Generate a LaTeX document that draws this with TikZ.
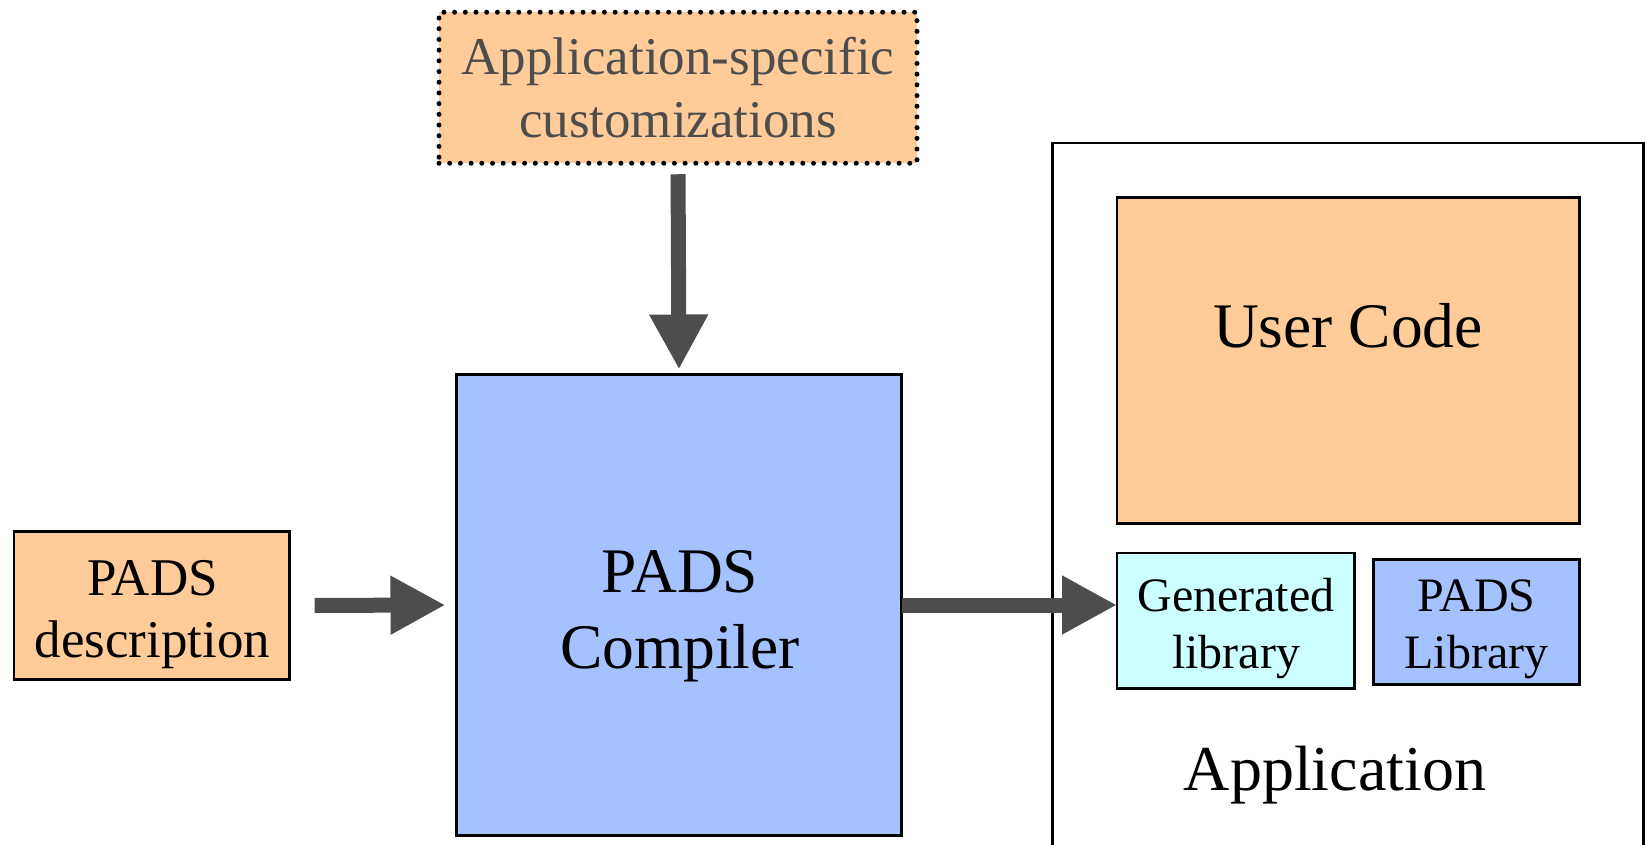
\documentclass[tikz,border=0pt]{standalone}
\usepackage{fontspec}
\setmainfont{Liberation Serif}
\usetikzlibrary{arrows.meta}
\definecolor{boxorange}{HTML}{FFCC99}
\definecolor{boxblue}{HTML}{A4C2FF}
\definecolor{boxcyan}{HTML}{CCFFFF}
\definecolor{arrowgray}{HTML}{4D4D4D}
\tikzset{
  box/.style={draw=black, line width=2.8pt, inner sep=0pt, outer sep=0pt, rectangle},
  dotbox/.style={draw=black, line width=5pt, dash pattern=on 0pt off 10.7pt, line cap=round, inner sep=0pt, outer sep=0pt, rectangle},
  bigarrow/.style={draw=arrowgray, line width=15pt, -{Triangle[width=55pt,length=55pt]}},
  txt/.style={align=center, inner sep=0pt, text=black}
}
\begin{document}
\begin{tikzpicture}[x=1pt,y=-1pt]
\useasboundingbox (0,0) rectangle (1647,845);
\clip (0,0) rectangle (1647,845);
\fill[white] (0,0) rectangle (1647,845);

% application container
\node[box, fill=white, minimum width=591pt, minimum height=757pt] (app) at (1348.25,521.6) {};

% boxes
\node[dotbox, fill=boxorange, minimum width=478pt, minimum height=151pt,
      align=center, text=arrowgray, font=\fontsize{53}{63}\selectfont] (cust) at (678,87.75)
      {Application-specific\\customizations};
\node[box, fill=boxorange, minimum width=275.5pt, minimum height=148pt] (desc) at (151.8,605.5) {};
\node[box, fill=boxblue, minimum width=445pt, minimum height=461pt] (comp) at (679,605) {};
\node[box, fill=boxorange, minimum width=462.5pt, minimum height=326pt] (user) at (1348.25,360.5) {};
\node[box, fill=boxcyan, minimum width=237.5pt, minimum height=135.5pt] (gen) at (1235.75,620.75) {};
\node[box, fill=boxblue, minimum width=206pt, minimum height=125pt] (padslib) at (1476.5,622) {};

% texts
\node[txt, font=\fontsize{53}{62}\selectfont] (descT) at (152.5,614.2) {PADS\\description};
\node[txt, font=\fontsize{63.5}{76}\selectfont] (compT) at (680,616) {PADS\\Compiler};
\node[txt, font=\fontsize{63.5}{76}\selectfont, anchor=base] (userT) at (1348,347) {User Code};
\node[txt, font=\fontsize{48}{57}\selectfont] (genT) at (1236,628.3) {Generated\\library};
\node[txt, font=\fontsize{48}{57}\selectfont] (libT) at (1476.5,628.8) {PADS\\Library};
\node[txt, font=\fontsize{64}{76}\selectfont, anchor=base] (appT) at (1335,790) {Application};

% arrows
\draw[bigarrow, shorten <=11pt, shorten >=5pt] (cust.south) -- (comp.north);
\draw[bigarrow, shorten <=25pt, shorten >=11pt] (desc.east) -- (comp.west);
\draw[bigarrow] (comp.east) -- (comp.east -| gen.west);
\end{tikzpicture}
\end{document}
